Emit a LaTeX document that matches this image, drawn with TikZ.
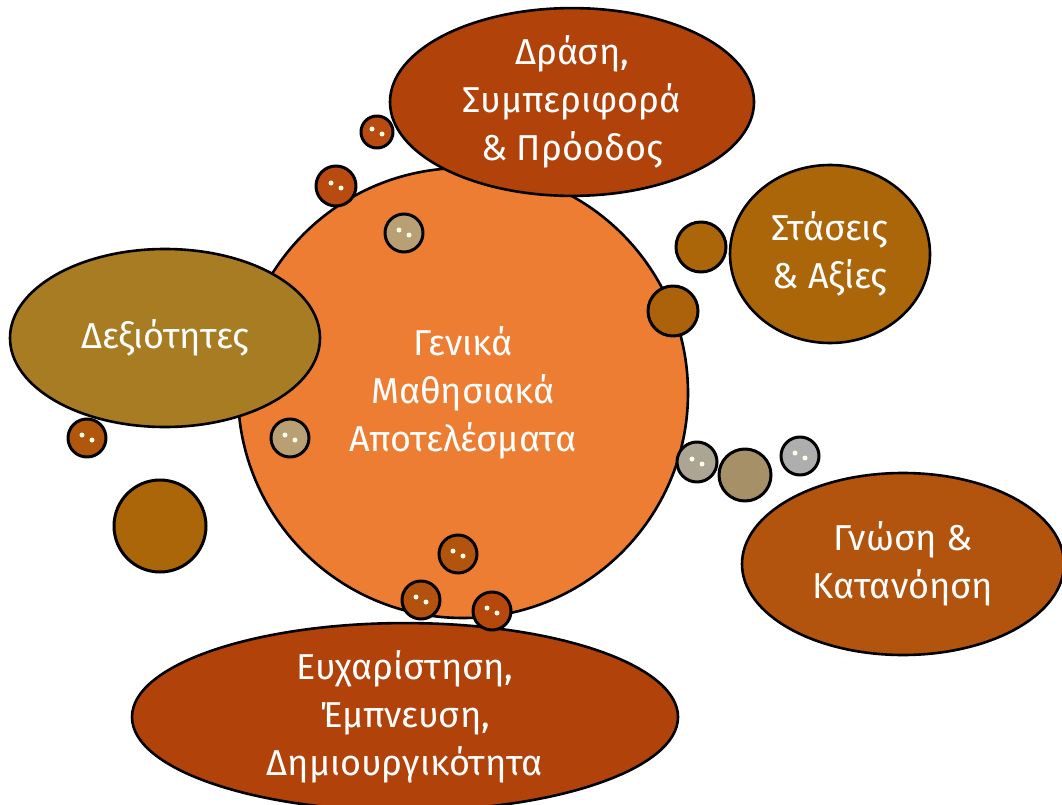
\documentclass[tikz,border=0pt]{standalone}
\usepackage{fontspec}
\setmainfont{Fira Sans}
\usetikzlibrary{shapes.geometric}

\definecolor{core}{HTML}{EC7D33}
\definecolor{rust}{HTML}{B0420A}
\definecolor{amber}{HTML}{AC660A}
\definecolor{olive}{HTML}{A87C22}
\definecolor{copper}{HTML}{B2540E}
\definecolor{tan}{HTML}{B8A074}
\definecolor{pebble}{HTML}{ADA594}
\definecolor{silver}{HTML}{AEAEAE}

\tikzset{
    blob/.style={ellipse, draw=black, line width=2.6pt, inner sep=0pt,
        text=white, align=center, font=\fontsize{36}{48}\selectfont},
    bead/.style={circle, draw=black, line width=3pt, inner sep=0pt,
        minimum size=#1},
    glint/.style={circle, fill=white!90!yellow, inner sep=0pt, minimum size=5pt}
}

\begin{document}
\begin{tikzpicture}[x=1pt, y=-1pt, line cap=round, line join=round]
    \useasboundingbox (0, 0) rectangle (1062, 805);

    % centre
    \node[blob, shape=circle, fill=core, minimum size=450pt] (core) at (463, 393)
        {Γενικά\\Μαθησιακά\\Αποτελέσματα};

    % outer ellipses
    \node[blob, fill=rust, minimum width=364pt, minimum height=156pt] (drasi) at (572, 102)
        {Δράση,\\Συμπεριφορά\\\& Πρόοδος};
    \node[blob, fill=amber, minimum width=200pt, minimum height=178pt] (staseis) at (830, 254)
        {Στάσεις\\\& Αξίες};
    \node[blob, fill=olive, minimum width=310pt, minimum height=178pt] (dexiotites) at (165, 338)
        {Δεξιότητες};
    \node[blob, fill=copper, minimum width=322pt, minimum height=182pt] (gnosi) at (903, 564)
        {Γνώση \&\\Κατανόηση};
    \node[blob, fill=rust, minimum width=546pt, minimum height=176pt] (eyxaristisi) at (405, 717)
        {Ευχαρίστηση,\\Έμπνευση,\\Δημιουργικότητα};

    % bubbles
    \node[bead=32pt, fill=rust!85!core] (b1) at (377, 132) {};
    \node[bead=40pt, fill=rust!85!core] (b2) at (336, 186) {};
    \node[bead=38pt, fill=tan] (b3) at (404, 233) {};
    \node[bead=50pt, fill=amber] (b4) at (701, 247) {};
    \node[bead=50pt, fill=amber!90!rust] (b5) at (673, 311) {};
    \node[bead=38pt, fill=copper!85!amber] (b6) at (87, 438) {};
    \node[bead=92pt, fill=amber] (b7) at (160, 526) {};
    \node[bead=38pt, fill=tan] (b8) at (290, 438) {};
    \node[bead=40pt, fill=pebble] (b9) at (697, 462) {};
    \node[bead=52pt, fill=tan!90!black] (b10) at (745, 475) {};
    \node[bead=38pt, fill=silver] (b11) at (800, 456) {};
    \node[bead=38pt, fill=copper] (b12) at (458, 554) {};
    \node[bead=38pt, fill=copper!90!rust] (b13) at (421, 600) {};
    \node[bead=38pt, fill=rust!90!core] (b14) at (492, 611) {};

    % glints
    \foreach \b in {b1,b2,b3,b6,b8,b9,b11,b12,b13,b14}{
        \node[glint] at ([xshift=-5pt, yshift=3pt]\b.center) {};
        \node[glint] at ([xshift=5pt, yshift=-2pt]\b.center) {};
    }
\end{tikzpicture}
\end{document}
